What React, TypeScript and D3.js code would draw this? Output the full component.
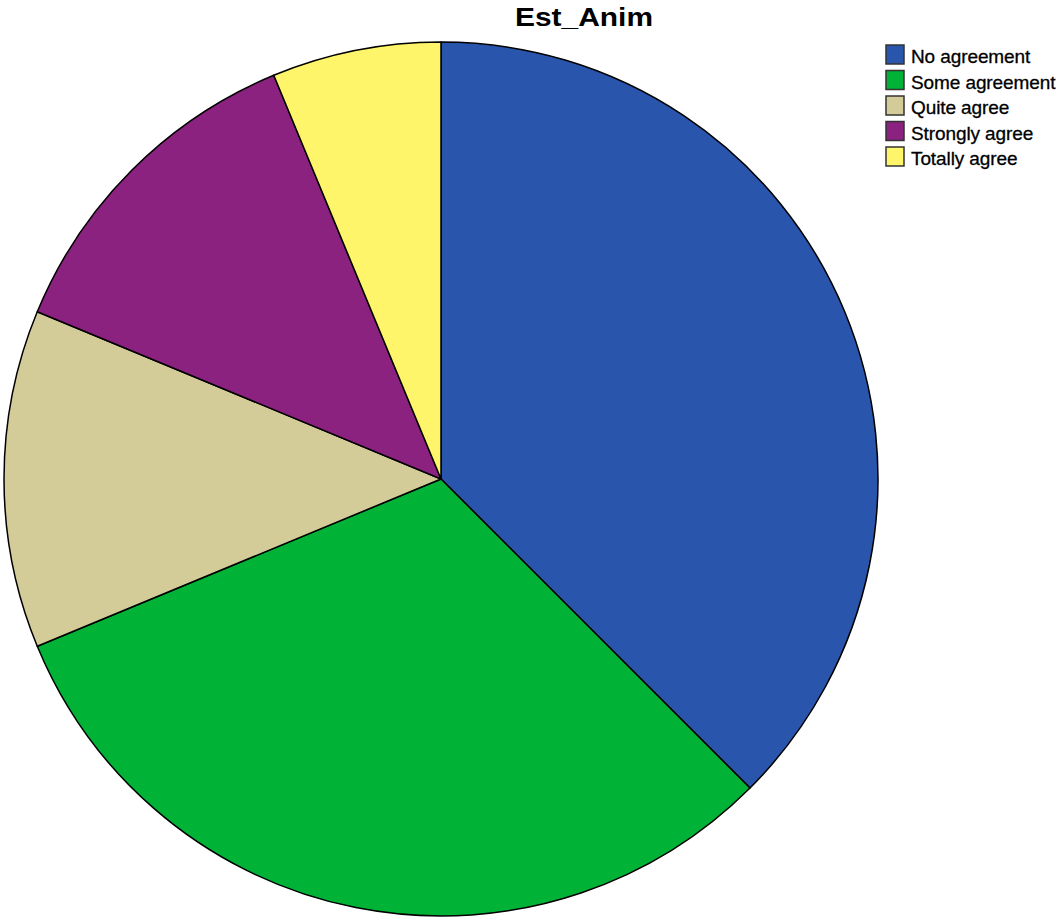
import React from "react";
import * as d3 from "d3";

const categories = ["No agreement", "Some agreement", "Quite agree", "Strongly agree", "Totally agree"];
const counts = [6, 5, 2, 2, 1];
const colors = ["#2a55ad", "#00b336", "#d4cc98", "#8b2280", "#fff56a"];
const title = "Est_Anim";

export default function App() {
  const W = 1061, H = 919;
  const cx = 441, cy = 479, r = 437;
  const pie = d3.pie<number>().sort(null).value((d) => d)(counts);
  const arc = d3.arc<d3.PieArcDatum<number>>().innerRadius(0).outerRadius(r);
  const legY = d3.scaleBand<number>().domain(d3.range(categories.length)).range([44, 44 + 25.5 * 5]);
  return (
    <svg width={W} height={H} style={{ position: "absolute", left: 0, top: 0, background: "#fff" }}>
      <text x={584} y={26} textAnchor="middle" fontFamily="Liberation Sans, Arial, sans-serif" fontWeight="bold" fontSize={25}
        textLength={138} lengthAdjust="spacingAndGlyphs">{title}</text>
      <g transform={`translate(${cx},${cy})`}>
        {pie.map((p, i) => (
          <path key={i} d={arc(p) || ""} fill={colors[i]} stroke="#000" strokeWidth={1.5} strokeLinejoin="round" />
        ))}
      </g>
      <g>
        {categories.map((c, i) => {
          const y = legY(i)!;
          return (
            <g key={c}>
              <rect x={886} y={y + 1} width={18} height={19} fill={colors[i]} stroke="#333" strokeWidth={1.5} />
              <text x={911} y={y + 19} fontFamily="Liberation Sans, Arial, sans-serif" fontSize={19}
                stroke="#000" strokeWidth={0.3} style={{ letterSpacing: "-0.1px" }}>{c}</text>
            </g>
          );
        })}
      </g>
    </svg>
  );
}
